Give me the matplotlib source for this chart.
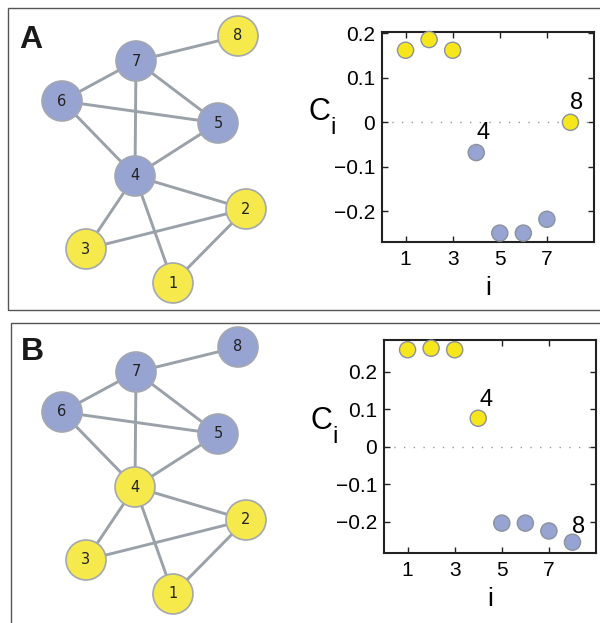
import matplotlib
matplotlib.use("Agg")
import matplotlib.pyplot as plt
from matplotlib.patches import Rectangle
from matplotlib.transforms import ScaledTranslation

plt.rcParams['font.family'] = ['Liberation Sans', 'DejaVu Sans']

# ---- data ----
node_ids = [1, 2, 3, 4, 5, 6, 7, 8]
node_x = [173, 246, 86, 135, 218, 62, 136, 238]
node_y = [283, 209, 249, 176, 123, 101, 61, 36]
edges = [(7, 8), (7, 6), (7, 5), (7, 4), (6, 5), (6, 4), (5, 4),
         (4, 2), (4, 3), (4, 1), (3, 2), (2, 1)]

ci_A = [0.162, 0.186, 0.162, -0.068, -0.249, -0.249, -0.218, 0.0]
ci_B = [0.259, 0.263, 0.259, 0.076, -0.204, -0.204, -0.225, -0.255]
group_A = ['y', 'y', 'y', 'b', 'b', 'b', 'b', 'y']
group_B = ['y', 'y', 'y', 'y', 'b', 'b', 'b', 'b']
xticks = [1, 3, 5, 7]
yticks = [-0.2, -0.1, 0, 0.1, 0.2]
ytick_labels = ['\u22120.2', '\u22120.1', '0', '0.1', '0.2']

net_col = {'y': '#f5e94b', 'b': '#97a3d1'}
sc_col = {'y': '#f6e61c', 'b': '#97a3d1'}

W, H = 600, 623
fig = plt.figure(figsize=(6.0, 6.23), dpi=100)


def fx(px):
    return px / W


def fy(py):
    return 1 - py / H


# panel frames
fig.patches.append(Rectangle((fx(8), fy(310)), fx(640), 302 / H, transform=fig.transFigure,
                             fill=False, edgecolor='#555555', linewidth=1.0))
fig.patches.append(Rectangle((fx(11), fy(640)), fx(640), 317 / H, transform=fig.transFigure,
                             fill=False, edgecolor='#555555', linewidth=1.0))

fig.text(fx(19), fy(40), 'A', fontsize=23, fontweight='bold', va='center', ha='left', color='#1a1a1a')
fig.text(fx(21), fy(352), 'B', fontsize=23, fontweight='bold', va='center', ha='left', color='#1a1a1a')


def draw_network(top_px, groups):
    ax = fig.add_axes([0, fy(top_px + 310), 0.5, 310 / H])
    ax.set_xlim(0, 300)
    ax.set_ylim(310, 0)
    ax.axis('off')
    idx = {n: i for i, n in enumerate(node_ids)}
    for a, b in edges:
        ia, ib = idx[a], idx[b]
        ax.plot([node_x[ia], node_x[ib]], [node_y[ia], node_y[ib]], color='#9aa1a9',
                linewidth=2.1, zorder=1, solid_capstyle='butt')
    ax.scatter(node_x, node_y, s=830, c=[net_col[g] for g in groups],
               edgecolors='#a3a8b0', linewidths=1.2, zorder=2)
    for i, n in enumerate(node_ids):
        ax.text(node_x[i], node_y[i], str(n), ha='center', va='center', fontsize=10.5,
                family='DejaVu Sans', color='#222222', zorder=3)


def draw_scatter(rect, ci, groups, ylim, lab4, lab8):
    ax = fig.add_axes(rect)
    ax.axhline(0, color='#999999', linestyle=(0, (1, 6)), linewidth=1.0, zorder=1)
    ax.scatter(node_ids, ci, s=135, c=[sc_col[g] for g in groups],
               edgecolors='#8c929c', linewidths=1.0, zorder=3, clip_on=False)
    ax.set_xlim(0, 9)
    ax.set_ylim(*ylim)
    ax.set_xticks(xticks)
    ax.set_yticks(yticks)
    ax.set_yticklabels(ytick_labels)
    ax.tick_params(direction='in', length=4, width=1.0, top=True, right=True,
                   labelsize=15, color='#222222')
    ax.tick_params(axis='x', pad=6)
    ax.tick_params(axis='y', pad=5)
    for s in ax.spines.values():
        s.set_linewidth(1.5)
        s.set_color('#222222')
    ax.set_xlabel('i', fontsize=19, labelpad=5)
    # y label "C" with subscript "i"
    ax.text(-0.297, 0.619, 'C', fontsize=22, ha='center', va='center', transform=ax.transAxes)
    ax.text(-0.229, 0.545, 'i', fontsize=17, ha='center', va='center', transform=ax.transAxes)
    ax.text(4, ci[3], '4', fontsize=17, ha='left', va='bottom',
            transform=ax.transData + ScaledTranslation(lab4[0] / 100, lab4[1] / 100, fig.dpi_scale_trans))
    ax.text(8, ci[7], '8', fontsize=17, ha='left', va='bottom',
            transform=ax.transData + ScaledTranslation(lab8[0] / 100, lab8[1] / 100, fig.dpi_scale_trans))
    return ax


draw_network(0, group_A)
draw_network(311, group_B)

draw_scatter([fx(382), fy(242), 212 / W, 210 / H], ci_A, group_A, (-0.269, 0.203), (0, 9), (0, 8))
draw_scatter([fx(384), fy(552.7), 212 / W, 212.7 / H], ci_B, group_B, (-0.283, 0.285), (1, 7), (0, 4))

fig.savefig('out.png', dpi=100)
